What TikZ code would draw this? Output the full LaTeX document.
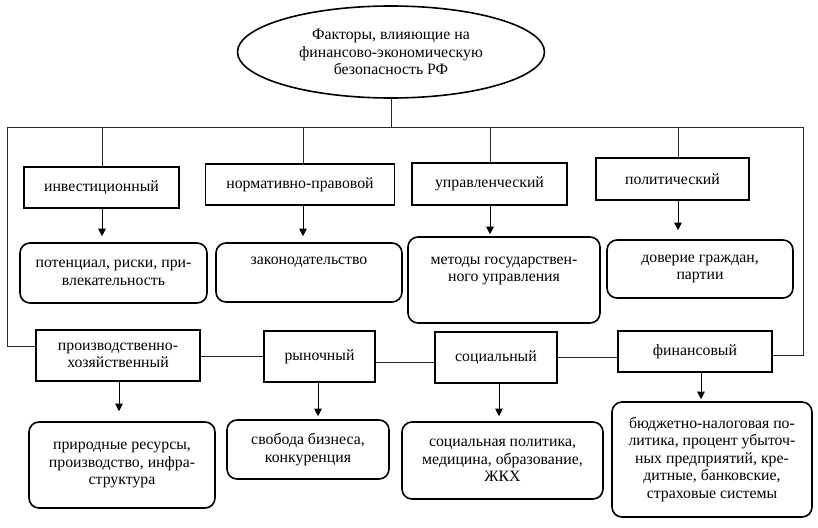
\documentclass[tikz,border=0pt]{standalone}
\usepackage{fontspec}
\setmainfont{Liberation Serif}
\usetikzlibrary{shapes.geometric,arrows.meta}
\begin{document}
\begin{tikzpicture}[x=1pt,y=-1pt,
  every node/.style={font=\fontsize{15.8}{17.5}\selectfont, align=center, inner sep=0pt},
  hbox/.style={draw, line width=1.6pt, rectangle},
  rbox/.style={draw, line width=1.6pt, rounded corners=10pt},
  conn/.style={line width=0.8pt, draw=black!85},
  arr/.style={line width=0.8pt, -{Triangle[length=7.5pt,width=7.5pt]}}
]
\useasboundingbox (0,0) rectangle (818,527);

% root
\node[draw, ellipse, line width=1.6pt, minimum width=307, minimum height=92] (root) at (391,52)
  {Факторы, влияющие на\\финансово-экономическую\\безопасность РФ};

% top row factor boxes
\node[hbox, minimum width=155, minimum height=41] (inv)  at (101.5,187.5) {инвестиционный};
\node[hbox, minimum width=189, minimum height=41] (norm) at (300,184.5) {нормативно-правовой};
\node[hbox, minimum width=155, minimum height=42] (upr)  at (489.5,184) {управленческий};
\node[hbox, minimum width=153, minimum height=42] (pol)  at (672.5,179) {политический};

% top row detail boxes
\node[rbox, minimum width=187, minimum height=60] (r1) at (113.5,273) {потенциал, риски, при-\\влекательность};
\node[rbox, minimum width=186, minimum height=59] (r2) at (309,272.5) {законодательство\\ \strut};
\node[rbox, minimum width=192, minimum height=86] (r3) at (504,280) {методы государствен-\\ного управления\\[4pt]};
\node[rbox, minimum width=186, minimum height=58] (r4) at (700,269) {доверие граждан,\\партии};

% bottom row factor boxes
\node[hbox, minimum width=164, minimum height=51] (prod) at (118,355.5) {производственно-\\хозяйственный};
\node[hbox, minimum width=111, minimum height=51] (ryn)  at (319.5,356.5) {рыночный};
\node[hbox, minimum width=122, minimum height=51] (soc)  at (496,357.5) {социальный};
\node[hbox, minimum width=154, minimum height=41] (fin)  at (695,351.5) {финансовый};

% bottom row detail boxes
\node[rbox, minimum width=186, minimum height=86] (r5) at (122,465) {природные ресурсы,\\производство, инфра-\\структура};
\node[rbox, minimum width=162, minimum height=59] (r6) at (308,449.5) {свобода бизнеса,\\конкуренция};
\node[rbox, minimum width=201, minimum height=77] (r7) at (502.5,460.5) {социальная политика,\\медицина, образование,\\ЖКХ};
\node[rbox, minimum width=200, minimum height=115] (r8) at (712,459.5) {бюджетно-налоговая по-\\литика, процент убыточ-\\ных предприятий, кре-\\дитные, банковские,\\страховые системы};

% frame connectors
\coordinate (tl) at (7,127);
\coordinate (tr) at (803,127);
\coordinate (d0) at (391,127);
\coordinate (d1) at (102,127);
\coordinate (d2) at (303,127);
\coordinate (d3) at (490,127);
\coordinate (d4) at (678,127);
\coordinate (lb) at (7,346);
\coordinate (rb) at (803,355);
\coordinate (c1) at (0,356);
\coordinate (c2) at (0,362);
\coordinate (c3) at (0,357);
\coordinate (a5) at (119,0);
\coordinate (a6) at (318,0);
\coordinate (a7) at (499,0);
\coordinate (a8) at (701,0);

\draw[conn] (root.south) -- (d0);
\draw[conn] (tl) -- (tr);
\draw[conn] (d1) -- (d1 |- inv.north);
\draw[conn] (d2) -- (d2 |- norm.north);
\draw[conn] (d3) -- (d3 |- upr.north);
\draw[conn] (d4) -- (d4 |- pol.north);
\draw[conn] (tl) -- (lb) -- (lb -| prod.west);
\draw[conn] (tr) -- (rb) -- (rb -| fin.east);
\draw[conn] (prod.east |- c1) -- (ryn.west |- c1);
\draw[conn] (ryn.east |- c2) -- (soc.west |- c2);
\draw[conn] (soc.east |- c3) -- (fin.west |- c3);

% arrows
\draw[arr, shorten >=6pt] (d1 |- inv.south) -- (d1 |- r1.north);
\draw[arr, shorten >=6pt] (d2 |- norm.south) -- (d2 |- r2.north);
\draw[arr, shorten >=2pt] (d3 |- upr.south) -- (d3 |- r3.north);
\draw[arr, shorten >=9pt] (d4 |- pol.south) -- (d4 |- r4.north);
\draw[arr, shorten >=10pt] (a5 |- prod.south) -- (a5 |- r5.north);
\draw[arr, shorten >=3pt] (a6 |- ryn.south) -- (a6 |- r6.north);
\draw[arr, shorten >=5pt] (a7 |- soc.south) -- (a7 |- r7.north);
\draw[arr, shorten >=2pt] (a8 |- fin.south) -- (a8 |- r8.north);
\end{tikzpicture}
\end{document}
